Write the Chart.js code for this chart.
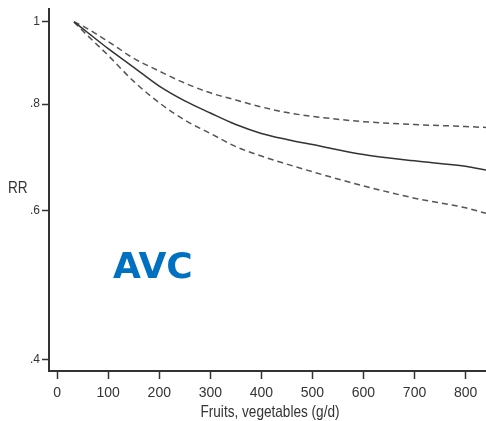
<!DOCTYPE html>
<html lang="en">
<head>
    <meta charset="UTF-8">
    <title>AVC RR</title>
    <style type="text/css">
        body {
            margin: 0;
            background: #fff;
        }
        .wrap {
            width: 486px;
            height: 421px;
        }
    </style>
</head>
<body>
    <div class="wrap">
        <canvas id="myChart" width="486" height="421"></canvas>
    </div>

    <script src="https://cdn.jsdelivr.net/npm/chart.js"></script>
    <script>
        // values
        const intake = [33, 50, 100, 150, 200, 250, 300, 350, 400, 450, 500, 600, 700, 800, 840];
        const rr = [1.0, 0.982, 0.930, 0.884, 0.840, 0.807, 0.781, 0.757, 0.739, 0.727, 0.717, 0.698, 0.686, 0.676, 0.669];
        const rrUpper = [1.0, 0.989, 0.948, 0.906, 0.875, 0.847, 0.825, 0.809, 0.794, 0.782, 0.774, 0.763, 0.757, 0.753, 0.751];
        const rrLower = [1.0, 0.976, 0.913, 0.851, 0.803, 0.766, 0.739, 0.713, 0.695, 0.680, 0.666, 0.641, 0.620, 0.604, 0.595];
        const xTicks = [0, 100, 200, 300, 400, 500, 600, 700, 800];
        const yTicks = [0.4, 0.6, 0.8, 1];

        function toPoints(ys) {
            return intake.map((x, i) => ({ x: x, y: ys[i] }));
        }

        const sans = '"Liberation Sans", Arial, sans-serif';

        // condensed text, like the narrow font of the original
        function narrowText(ctx, text, x, y, size, squeeze) {
            ctx.save();
            ctx.font = size + 'px ' + sans;
            ctx.translate(x, y);
            ctx.scale(squeeze, 1);
            ctx.fillText(text, 0, 0);
            ctx.restore();
        }

        // extra text: RR label, x title and the AVC tag
        const labelsPlugin = {
            id: 'labelsPlugin',
            afterDraw(chart) {
                const ctx = chart.ctx;
                ctx.save();
                ctx.fillStyle = '#333';
                ctx.textBaseline = 'middle';
                ctx.textAlign = 'left';
                narrowText(ctx, 'RR', 8, 189, 16, 0.85);
                ctx.textAlign = 'center';
                narrowText(ctx, 'Fruits, vegetables (g/d)', 270, 412, 17, 0.8);
                ctx.fillStyle = '#0070C0';
                ctx.font = 'bold 36px "DejaVu Sans", sans-serif';
                ctx.textAlign = 'left';
                ctx.textBaseline = 'alphabetic';
                ctx.fillText('AVC', 113, 278);
                ctx.restore();
            }
        };

        const lineStyle = {
            borderColor: '#333',
            borderWidth: 1.5,
            pointRadius: 0,
            cubicInterpolationMode: 'monotone',
            fill: false
        };

        const config = {
            type: 'line',
            data: {
                datasets: [
                    Object.assign({ label: 'RR', data: toPoints(rr) }, lineStyle),
                    Object.assign({ label: 'upper', data: toPoints(rrUpper), borderDash: [6, 4] }, lineStyle, { borderColor: '#555' }),
                    Object.assign({ label: 'lower', data: toPoints(rrLower), borderDash: [6, 4] }, lineStyle, { borderColor: '#555' })
                ]
            },
            options: {
                responsive: false,
                animation: false,
                layout: { padding: { top: 5, right: 0, left: 0, bottom: 0 } },
                plugins: {
                    legend: { display: false },
                    tooltip: { enabled: false }
                },
                scales: {
                    x: {
                        type: 'linear',
                        min: -16,
                        max: 840,
                        afterBuildTicks: (scale) => { scale.ticks = xTicks.map(v => ({ value: v })); },
                        afterFit: (scale) => { scale.height = 50; },
                        grid: { drawOnChartArea: false, tickLength: 8, tickColor: '#333', tickWidth: 1.5 },
                        border: { color: '#333', width: 2 },
                        ticks: {
                            color: '#333',
                            padding: 6,
                            maxRotation: 0,
                            autoSkip: false,
                            font: { family: sans, size: 14 }
                        }
                    },
                    y: {
                        type: 'logarithmic',
                        min: 0.388,
                        max: 1.035,
                        afterBuildTicks: (scale) => { scale.ticks = yTicks.map(v => ({ value: v })); },
                        afterFit: (scale) => { scale.width = 49; },
                        grid: { drawOnChartArea: false, tickLength: 7, tickColor: '#333', tickWidth: 1.5 },
                        border: { color: '#333', width: 2 },
                        ticks: {
                            color: '#333',
                            padding: 2,
                            autoSkip: false,
                            font: { family: sans, size: 12 },
                            callback: (v) => v === 1 ? '1' : String(v).replace(/^0/, '')
                        }
                    }
                }
            },
            plugins: [labelsPlugin]
        };

        const myChart = new Chart(document.getElementById('myChart'), config);
    </script>
</body>
</html>
